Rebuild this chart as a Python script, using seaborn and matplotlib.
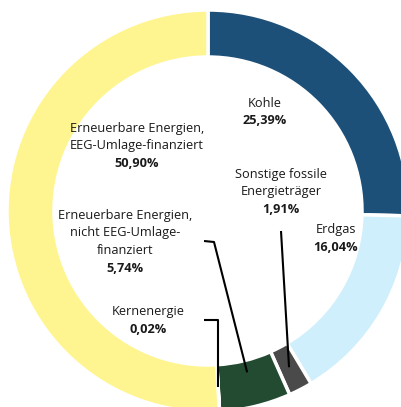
import numpy as np
import matplotlib
matplotlib.use("Agg")
import matplotlib.pyplot as plt
import seaborn as sns

sns.set_theme(style="white")
plt.rcParams['font.family'] = ['Open Sans', 'DejaVu Sans']

# data, clockwise from 12 o'clock
names = ["Kohle", "Erdgas", "Sonstige fossile\nEnergieträger",
         "Erneuerbare Energien,\nnicht EEG-Umlage-\nfinanziert",
         "Kernenergie", "Erneuerbare Energien,\nEEG-Umlage-finanziert"]
shares = [25.39, 16.04, 1.91, 5.74, 0.02, 50.90]
colors = ["#1D5079", "#D0EFFC", "#4A4A4A", "#234B31", "#F4A261", "#FFF590"]

# label text centre (pixel coords, top line) and leader line points
label_pos = [(265, 103), (336, 230), (281, 174), (125, 215), (148, 312), (137, 128)]
leaders = {2: [(281, 231)], 3: [(204, 241), (214, 242)], 4: [(204, 320), None]}
tip_r = {2: 176, 3: 166, 4: 176}

W, H = 402, 407
cx, cy, R, ring = 208, 211, 201, 47
line_h = 17.7

fig = plt.figure(figsize=(W / 100, H / 100), dpi=100)
ax = fig.add_axes([0, 0, 1, 1])
ax.pie(shares, colors=colors, startangle=90, counterclock=False,
       radius=R, center=(cx, H - cy), frame=True,
       wedgeprops=dict(width=ring, edgecolor="white", linewidth=2.5))
ax.set_xlim(0, W)
ax.set_ylim(0, H)
ax.axis("off")

fs = 9.2
for i, (name, val) in enumerate(zip(names, shares)):
    x, y = label_pos[i]
    lines = name.split("\n")
    for j, ln in enumerate(lines):
        ax.text(x, H - (y + j * line_h), ln, ha="center", va="center",
                fontsize=fs, color="#1a1a1a")
    ax.text(x, H - (y + len(lines) * line_h),
            f"{val:.2f}".replace(".", ",") + "%", ha="center", va="center",
            fontsize=fs, fontweight="bold", color="#1a1a1a")

# leader lines to middle of the small wedges
cum = np.cumsum([0] + shares)
for i, pts in leaders.items():
    mid = (cum[i] + cum[i + 1]) / 2 / 100 * 2 * np.pi
    tx = cx + tip_r[i] * np.sin(mid)
    ty = cy - tip_r[i] * np.cos(mid)
    path = []
    for p in pts:
        if p is None:
            path.append((tx, path[-1][1]))
        else:
            path.append(p)
    if i == 4:
        path[-1] = (tx, path[0][1])
    path.append((tx, ty))
    xs = [p[0] for p in path]
    ys = [H - p[1] for p in path]
    ax.plot(xs, ys, color="black", lw=1.5, solid_capstyle="butt")

fig.savefig("out.png", dpi=100)
